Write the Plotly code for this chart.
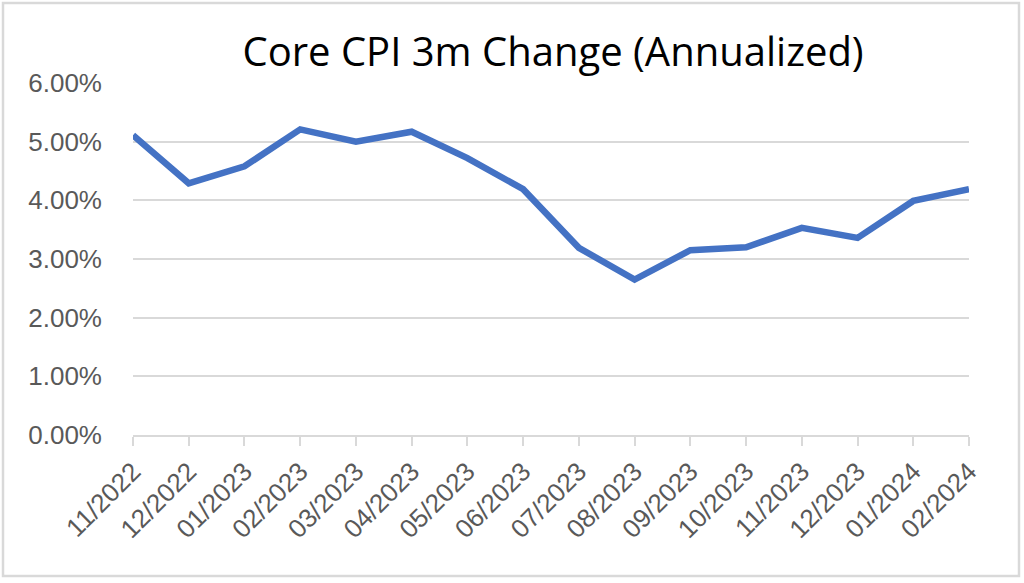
import plotly.graph_objects as go

months = ["11/2022", "12/2022", "01/2023", "02/2023", "03/2023", "04/2023",
          "05/2023", "06/2023", "07/2023", "08/2023", "09/2023", "10/2023",
          "11/2023", "12/2023", "01/2024", "02/2024"]
core_cpi_3m_ann = [5.11, 4.29, 4.58, 5.21, 5.00, 5.17, 4.72, 4.19,
                   3.19, 2.65, 3.15, 3.20, 3.53, 3.36, 3.99, 4.19]
y_ticks = [0, 1, 2, 3, 4, 5, 6]
y_tick_labels = ["0.00%", "1.00%", "2.00%", "3.00%", "4.00%", "5.00%", "6.00%"]
title_text = "Core CPI 3m Change (Annualized)"

W, H = 1024, 583
ML, MR, MT, MB = 133, 55, 83, 148

fig = go.Figure()
fig.add_trace(go.Scatter(
    x=list(range(len(months))), y=core_cpi_3m_ann, mode="lines",
    line=dict(color="#4472C4", width=6.5, shape="linear"),
    hoverinfo="skip", showlegend=False,
))

grey = "#595959"
fig.update_layout(
    width=W, height=H,
    margin=dict(l=ML, r=MR, t=MT, b=MB, pad=0),
    paper_bgcolor="white", plot_bgcolor="white",
    title=dict(text=title_text, x=(ML + W - MR) / 2 / W + 0.002, xanchor="center",
               y=1 - 52 / H, yanchor="middle", yref="container",
               font=dict(family="Open Sans", size=40, color="#000000")),
    font=dict(family="Liberation Sans, Arial, sans-serif", color=grey),
    xaxis=dict(
        range=[0, len(months) - 1],
        tickmode="array", tickvals=list(range(len(months))), ticktext=months,
        tickangle=-45, tickfont=dict(size=26, color=grey),
        ticks="outside", ticklen=9, tickwidth=2, tickcolor="#D9D9D9",
        showline=True, linecolor="#D9D9D9", linewidth=2,
        showgrid=False, zeroline=False, fixedrange=True,
    ),
    yaxis=dict(
        range=[0, 6], tickmode="array", tickvals=y_ticks, ticktext=y_tick_labels,
        tickfont=dict(size=26, color=grey), ticklabelstandoff=30,
        showgrid=True, gridcolor="#D9D9D9", gridwidth=2,
        showline=False, zeroline=False, fixedrange=True,
    ),
)

# outer chart border
pw = W - ML - MR
ph = H - MT - MB
def px_x(p):
    return (p - ML) / pw
def px_y(p):
    return (H - MB - p) / ph
fig.add_shape(type="rect", xref="paper", yref="paper",
              x0=px_x(3), x1=px_x(1019), y0=px_y(3), y1=px_y(576),
              line=dict(color="#D9D9D9", width=2.5), fillcolor="rgba(0,0,0,0)",
              layer="below")

fig.write_html("out.html", config={"displayModeBar": False},
               post_script="document.body.style.margin='0';document.body.style.overflow='hidden';")
